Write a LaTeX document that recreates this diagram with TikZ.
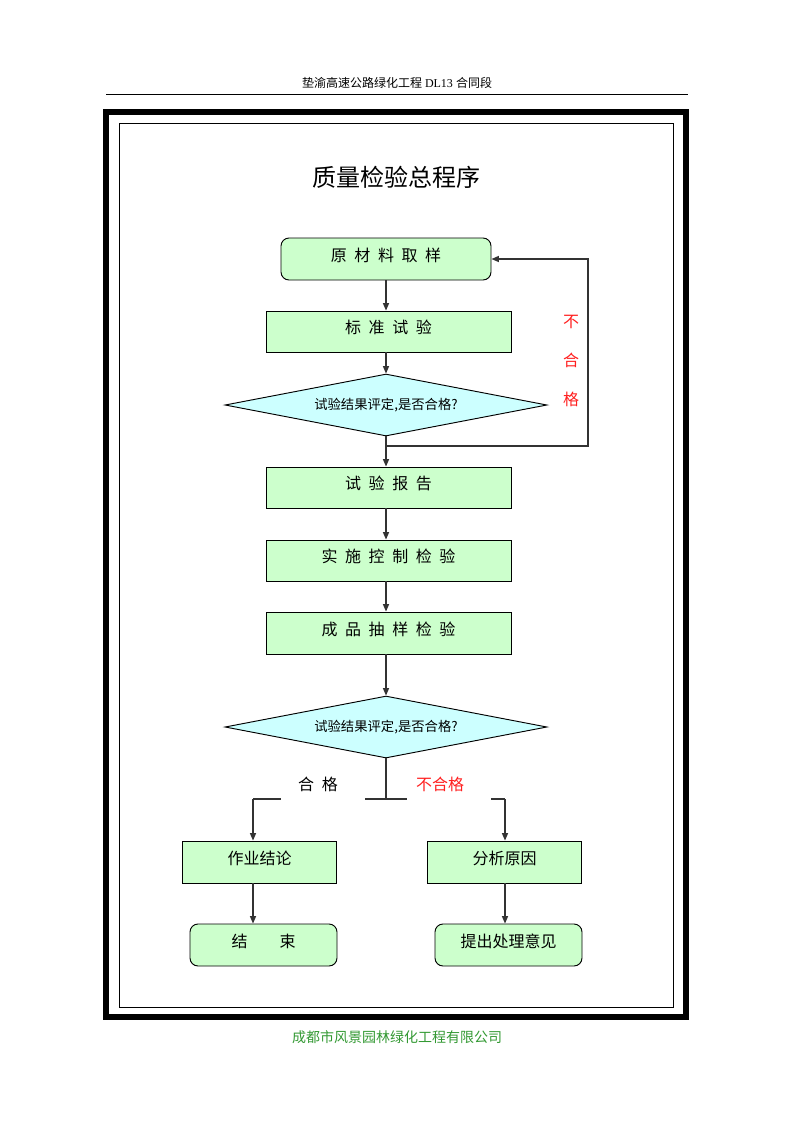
\documentclass[tikz,border=0pt]{standalone}
\usepackage{fontspec}
\setmainfont{Liberation Serif}
\newfontfamily\cjk{Noto Sans CJK SC}
\usetikzlibrary{shapes.geometric,arrows.meta}
\definecolor{boxgreen}{HTML}{CCFFCC}
\definecolor{diacyan}{HTML}{CCFFFF}
\definecolor{footgreen}{HTML}{339933}
\definecolor{nored}{HTML}{FF2020}
\newcommand\gp{\hspace{0.47em}}
\begin{document}
\begin{tikzpicture}[x=0.75pt,y=-0.75pt,
  proc/.style={draw, fill=boxgreen, line width=0.7pt, inner sep=0pt,
    text height=8pt, text depth=5pt,
    font=\cjk\fontsize{12}{14}\selectfont},
  rproc/.style={proc, rounded corners=6pt},
  decide/.style={draw, fill=diacyan, shape=diamond, aspect=5.2, inner sep=0pt,
    line width=0.7pt, minimum width=241.5pt, minimum height=46.5pt,
    font=\cjk\fontsize{10}{12}\selectfont},
  conn/.style={draw=black!80, line width=0.8pt},
  arr/.style={conn, -{Triangle[length=5.5pt,width=4.5pt]}},
  lbl/.style={inner sep=0pt, font=\cjk\fontsize{12}{14}\selectfont}
]
\useasboundingbox (0,0) rectangle (793,1122);

% header and footer
\node[inner sep=0pt, font=\fontsize{9}{11}\selectfont] (head) at (397,83)
  {{\cjk 垫渝高速公路绿化工程} DL13 {\cjk 合同段}};
\draw[line width=0.75pt] (106,94) -- (688,94);
\node[inner sep=0pt, text=footgreen, font=\cjk\fontsize{10.5}{12}\selectfont] (foot) at (397,1037)
  {成都市风景园林绿化工程有限公司};

% frames
\draw[line width=4.5pt] (106,112) rectangle (686,1017);
\draw[line width=0.75pt] (119,123) rectangle (673,1007);

% title
\node[inner sep=0pt, font=\cjk\fontsize{18}{20}\selectfont] (title) at (396,177) {质量检验总程序};

% main column
\node[rproc, minimum width=157.5pt, minimum height=31.5pt] (b1) at (386,259)
  {原\gp 材\gp 料\gp 取\gp 样};
\node[proc, minimum width=183.75pt, minimum height=30.75pt] (b2) at (388.5,331.5)
  {标\gp 准\gp 试\gp 验};
\node[decide] (d1) at (386,405) {试验结果评定,是否合格?};
\node[proc, minimum width=183.75pt, minimum height=30.75pt] (b3) at (388.5,487.5)
  {试\gp 验\gp 报\gp 告};
\node[proc, minimum width=183.75pt, minimum height=30.75pt] (b4) at (388.5,560.5)
  {实\gp 施\gp 控\gp 制\gp 检\gp 验};
\node[proc, minimum width=183.75pt, minimum height=31.5pt] (b5) at (388.5,633)
  {成\gp 品\gp 抽\gp 样\gp 检\gp 验};
\node[decide] (d2) at (386,727) {试验结果评定,是否合格?};

% bottom branches
\node[proc, minimum width=115.5pt, minimum height=31.5pt] (b6) at (259.5,862) {作业结论};
\node[proc, minimum width=115.5pt, minimum height=31.5pt] (b7) at (504.5,862) {分析原因};
\node[rproc, minimum width=110.25pt, minimum height=31.5pt] (b8) at (263.5,945) {结　　束};
\node[rproc, minimum width=110.25pt, minimum height=31.5pt] (b9) at (508.5,945) {提出处理意见};

% labels
\node[lbl, text=nored, align=center, font=\cjk\fontsize{12}{29.25}\selectfont] (nq1) at (571,361)
  {不\\合\\格};
\node[lbl] (q2) at (318,784) {合\gp 格};
\node[lbl, text=nored] (nq2) at (440,784) {不合格};

% connectors
\draw[arr] (b1.south) -- (b1.south |- b2.north);
\draw[arr] (b1.south |- b2.south) -- (d1.north);
\draw[arr] (d1.south) -- (d1.south |- b3.north);
\coordinate (J) at (386,446);
\coordinate (R) at (588,446);
\draw[arr] (J) -- (R) |- (b1.east);
\draw[arr] (d1.south |- b3.south) -- (d1.south |- b4.north);
\draw[arr] (d1.south |- b4.south) -- (d1.south |- b5.north);
\draw[arr] (d1.south |- b5.south) -- (d2.north);

\coordinate (M) at (386,799);
\coordinate (L) at (253,799);
\coordinate (Rt) at (505,799);
\draw[conn] (d2.south) -- (M);
\draw[conn] (L) -- (281,799);
\draw[conn] (365,799) -- (407,799);
\draw[conn] (491,799) -- (Rt);
\draw[arr] (L) -- (L |- b6.north);
\draw[arr] (Rt) -- (Rt |- b7.north);
\draw[arr] (L |- b6.south) -- (L |- b8.north);
\draw[arr] (Rt |- b7.south) -- (Rt |- b9.north);
\end{tikzpicture}
\end{document}
